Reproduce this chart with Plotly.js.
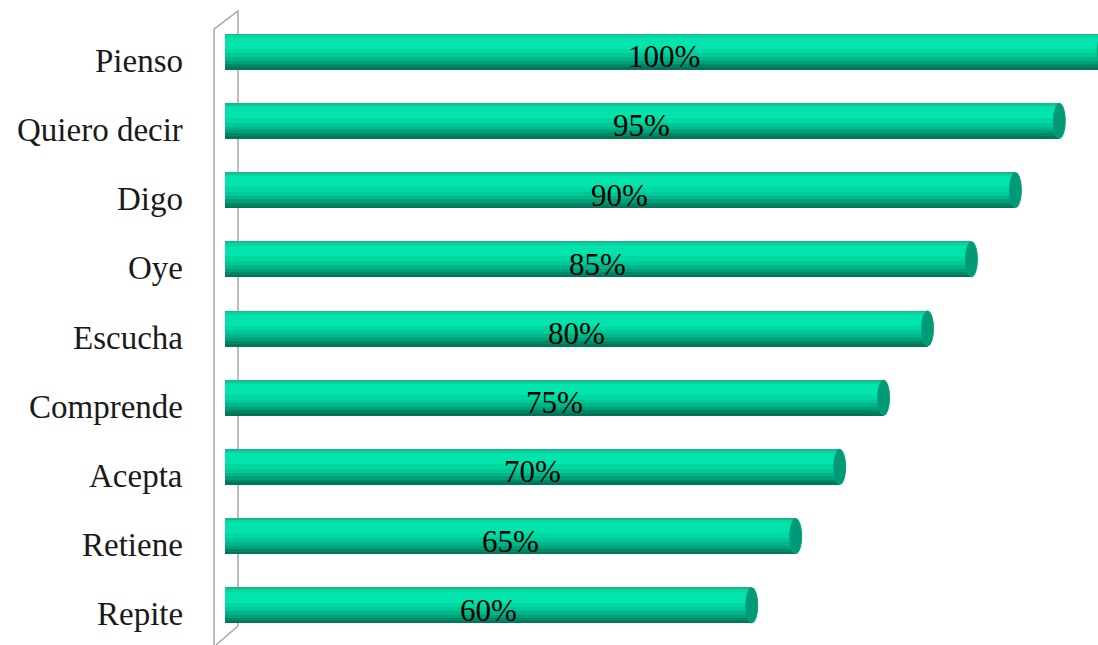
<!DOCTYPE html>
<html>
<head>
<meta charset="utf-8">
<script src="https://cdn.plot.ly/plotly-3.0.1.min.js"></script>
<style>html,body{margin:0;padding:0;background:#fff;}#chart{width:1098px;height:645px;}</style>
</head>
<body>
<div id="chart"></div>
<script>
const categories = ["Pienso", "Quiero decir", "Digo", "Oye", "Escucha", "Comprende", "Acepta", "Retiene", "Repite"];
const values = [100, 95, 90, 85, 80, 75, 70, 65, 60];
const valueLabels = ["100%", "95%", "90%", "85%", "80%", "75%", "70%", "65%", "60%"];

const BAR_H = 0.52;
// gradient bands: [fromFraction, toFraction, color] top -> bottom
const bands = [
  [0.00, 0.05, "#16b88e"],
  [0.05, 0.12, "#08d5a2"],
  [0.12, 0.42, "#02e4ab"],
  [0.42, 0.55, "#00d8a2"],
  [0.55, 0.66, "#00c896"],
  [0.66, 0.76, "#00b588"],
  [0.76, 0.85, "#009f77"],
  [0.85, 0.93, "#008866"],
  [0.93, 1.00, "#007558"]
];

const idx = categories.map((c, i) => i);

const traces = bands.map(b => ({
  type: "bar",
  orientation: "h",
  y: idx,
  x: values,
  width: (b[1] - b[0]) * BAR_H,
  offset: -BAR_H / 2 + b[0] * BAR_H,
  marker: { color: b[2], line: { width: 0 } },
  hoverinfo: "skip",
  showlegend: false
}));

const CAP = 0.68;
const shapes = values.map((v, i) => ({
  type: "circle",
  xref: "x", yref: "y",
  x0: v - CAP, x1: v + CAP,
  y0: i - BAR_H / 2 + 0.005, y1: i + BAR_H / 2 - 0.005,
  fillcolor: "#009a76",
  line: { color: "#00a27c", width: 1 },
  layer: "above"
}));

// left wall decoration (paper coordinates)
const wallColor = "#a6a6a6";
shapes.push(
  { type: "path", xref: "paper", yref: "paper",
    path: "M -0.00797 -0.02 L -0.00797 0.9806 L 0.01936 1.0097 L 0.01936 0.0225 L -0.0057 -0.008",
    line: { color: wallColor, width: 1.5 }, layer: "below" }
);

const annotations = [];
categories.forEach((c, i) => {
  annotations.push({
    xref: "paper", yref: "y", x: 0, y: i,
    xanchor: "right", yanchor: "middle",
    xshift: -36, yshift: -9,
    text: c, showarrow: false,
    font: { family: "Liberation Serif, serif", size: 33, color: "#1a1a1a" }
  });
  annotations.push({
    xref: "x", yref: "y", x: values[i] / 2, y: i,
    xanchor: "center", yanchor: "middle",
    yshift: -5,
    text: valueLabels[i], showarrow: false,
    font: { family: "Liberation Serif, serif", size: 31, color: "#000" }
  });
});

const layout = {
  width: 1098, height: 645,
  margin: { l: 221, r: 0, t: 17, b: 5 },
  paper_bgcolor: "#fff", plot_bgcolor: "#fff",
  barmode: "overlay",
  bargap: 0,
  showlegend: false,
  xaxis: { range: [-0.4, 99.4], visible: false, fixedrange: true },
  yaxis: {
    range: [8.5, -0.5],
    tickmode: "array",
    tickvals: idx,
    ticktext: categories.map(() => ""),
    showgrid: false, zeroline: false, showline: false, ticks: "",
    showticklabels: false
  },
  shapes: shapes,
  annotations: annotations
};

Plotly.newPlot("chart", traces, layout, { displayModeBar: false, staticPlot: true });
</script>
</body>
</html>
